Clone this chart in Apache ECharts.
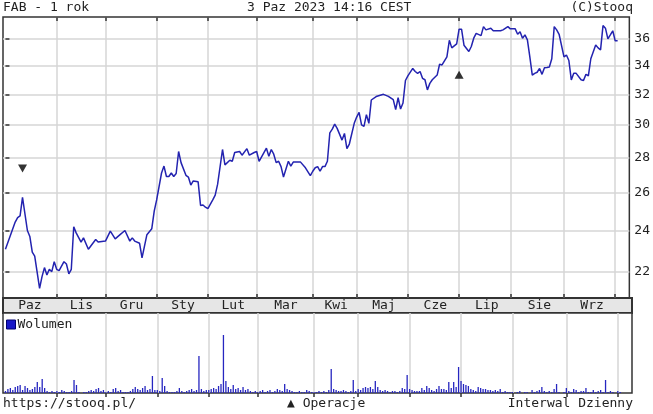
<!DOCTYPE html>
<html>
<head>
<meta charset="utf-8">
<script src="https://cdn.jsdelivr.net/npm/echarts@6/dist/echarts.min.js"></script>
<style>
html,body{margin:0;padding:0;background:#fff;}
#c{width:653px;height:414px;}
</style>
</head>
<body>
<div id="c"></div>
<script>
// ---- data (trading-day index d: 0 = 3 Oct 2022) ----
const monthNames = ['Paz','Lis','Gru','Sty','Lut','Mar','Kwi','Maj','Cze','Lip','Sie','Wrz'];
const monthLabelDays = [10, 31, 51.5, 72.5, 93, 114.5, 135, 154.5, 175.5, 196.5, 218, 239.5];
const monthStartDays = [21, 41, 62, 83, 103, 126, 144, 165, 186, 207, 229, 250];
const priceTicks = [22, 24, 26, 28, 30, 32, 34, 36];

const priceDays = [0,4,5,6,7,9,10,11,12,14,15,16,17,18,19,20,21,22,24,25,26,27,28,29,31,32,34,37,38,41,43,45,47,49,51,52,53,55,56,58,60,61,62,64,65,66,67,68,69,70,71,72,74,75,76,77,79,80,81,82,83,85,86,87,89,90,92,93,94,96,97,99,100,102,103,104,107,108,109,110,111,112,113,114,116,117,118,121,123,125,126,127,128,129,130,131,132,133,134,135,136,138,139,140,141,143,144,145,146,147,148,149,150,152,155,157,159,160,161,162,163,164,165,167,168,169,170,171,172,173,174,175,177,178,179,181,182,183,185,186,187,188,190,191,192,193,195,196,197,199,200,203,204,206,207,209,210,211,212,213,214,215,216,217,218,219,220,221,222,223,224,225,226,227,229,230,231,232,233,234,236,237,238,239,240,242,243,244,245,246,247,248,249,250,251];
const priceValues = [23.07,24.43,24.66,24.75,25.74,24.0,23.7,22.93,22.74,21.24,21.77,22.19,21.85,22.11,22.0,22.47,22.11,22.05,22.47,22.36,21.9,22.11,24.19,23.88,23.42,23.63,23.07,23.55,23.42,23.47,23.97,23.58,23.79,24.0,23.47,23.63,23.47,23.36,22.65,23.79,24.09,25.0,25.6,27.1,27.5,26.9,26.9,27.1,26.9,27.07,28.36,27.7,26.97,26.87,26.42,26.65,26.6,25.3,25.33,25.21,25.13,25.6,25.86,26.47,28.48,27.57,27.84,27.78,28.3,28.36,28.14,28.53,28.14,28.3,28.36,27.78,28.56,28.07,28.48,28.2,27.7,27.78,27.47,26.87,27.78,27.5,27.73,27.73,27.4,26.95,27.2,27.4,27.47,27.2,27.47,27.47,27.78,29.5,29.73,30.05,29.78,29.05,29.46,28.53,28.81,30.1,30.5,30.8,30.0,29.9,30.66,30.1,31.62,31.85,32.0,31.86,31.64,30.98,31.77,31.02,31.42,32.95,33.27,33.8,33.58,33.45,33.58,33.1,33.0,32.3,32.75,33.0,33.33,34.1,34.05,34.64,35.87,35.3,35.6,36.72,36.72,35.5,35.03,35.4,36.03,36.4,36.23,36.92,36.67,36.8,36.6,36.6,36.67,36.92,36.75,36.75,36.33,36.53,36.03,36.28,35.9,34.64,33.33,33.45,33.53,33.8,33.38,33.85,33.87,33.9,34.5,36.92,36.67,36.33,34.64,34.77,34.37,32.99,33.45,33.45,33.0,32.95,33.38,33.28,34.5,35.52,35.3,35.15,37.0,36.8,35.98,36.28,36.6,35.83,35.83];

// volume per trading day (relative units), d = 0..251
const volumeValues = [
 2,4,5,3,6,7,8,3,7,5,3,4,6,11,6,14,5,2,1,2,1,
 2,1,3,2,1,1,2,13,8,1,0,1,1,2,3,2,4,5,2,3,
 1,2,1,4,5,2,3,1,1,1,2,4,6,4,3,5,7,3,4,17,3,
 3,2,15,7,2,1,1,1,2,5,2,1,2,3,4,2,3,37,4,2,3,
 3,4,5,4,7,9,58,12,6,4,8,4,5,3,6,3,4,2,1,2,
 1,2,3,1,2,3,1,2,4,3,2,9,4,3,2,1,1,2,1,1,3,2,1,
 1,1,2,1,2,1,3,24,4,3,2,2,3,2,1,2,13,2,
 4,3,5,6,5,6,4,12,6,3,2,3,2,1,2,2,1,2,5,4,18,
 4,3,2,2,2,5,3,7,5,3,2,4,7,4,4,3,11,5,11,6,26,
 12,9,8,7,4,3,2,6,5,4,4,3,3,2,3,2,4,1,2,1,1,
 1,0,1,2,0,1,1,0,3,1,2,3,6,2,1,2,1,4,9,1,0,1,
 5,2,1,4,3,1,2,2,5,1,1,3,1,2,3,1,13,1,2,1,0,
 2,1
];

const operationsDown = [[7, 27.36]];
const operationsUp = [[186, 33.36]];

// ---- chart ----
const FONT = 'DejaVu Sans Mono';
const TXT = '#222';
const GRIDC = '#d6d6d6';
const FRAME = '#333';
const XMIN = -1, XMAX = 255.8;
const volumeData = volumeValues.map((v, i) => [i, v]);
const priceData = priceDays.map((d, i) => [d, priceValues[i]]);

const chart = echarts.init(document.getElementById('c'), null, {renderer: 'canvas'});
const txt = (extra) => Object.assign({fontFamily: FONT, fontSize: 13, fontWeight: 'normal', color: TXT}, extra || {});

chart.setOption({
  animation: false,
  backgroundColor: '#fff',
  title: [
    {text: 'FAB - 1 rok', left: 3, top: 1, padding: 0, textStyle: txt()},
    {text: '3 Paz 2023 14:16 CEST', left: 247, top: 1, padding: 0, textStyle: txt()},
    {text: '(C)Stooq', right: 20, top: 1, padding: 0, textStyle: txt()},
    {text: 'https://stooq.pl/', left: 3, top: 397, padding: 0, textStyle: txt()},
    {text: '\u25B2 Operacje', left: 287, top: 397, padding: 0, textStyle: txt()},
    {text: 'Interwal Dzienny', right: 20, top: 397, padding: 0, textStyle: txt()}
  ],
  legend: {
    left: 6, top: 318, padding: 0, itemWidth: 9, itemHeight: 9, itemGap: 4,
    icon: 'rect', selectedMode: false,
    textStyle: txt({padding: [0, 0, 0, -3]}),
    data: [{name: 'Wolumen', itemStyle: {color: '#1818c8', borderColor: '#000070', borderWidth: 1}}]
  },
  grid: [
    {left: 3, right: 21, top: 17, height: 281, show: true, borderColor: FRAME, borderWidth: 1.5, backgroundColor: '#fff'},
    {left: 3, right: 21, top: 298, height: 15, show: true, borderColor: FRAME, borderWidth: 2, backgroundColor: '#e6e6e6'},
    {left: 3, right: 21, top: 313, height: 80, show: true, borderColor: FRAME, borderWidth: 1.5, backgroundColor: '#fff'}
  ],
  xAxis: [
    {gridIndex: 0, type: 'value', min: XMIN, max: XMAX, position: 'bottom',
     axisLine: {show: false},
     axisTick: {show: true, inside: true, length: 4, customValues: monthStartDays, lineStyle: {color: FRAME, width: 1.5}},
     axisLabel: {show: false},
     splitLine: {show: true, lineStyle: {color: GRIDC, width: 1.5}}},
    {gridIndex: 0, type: 'value', min: XMIN, max: XMAX, position: 'top',
     axisLine: {show: false},
     axisTick: {show: true, inside: true, length: 4, customValues: monthStartDays, lineStyle: {color: FRAME, width: 1.5}},
     axisLabel: {show: false}, splitLine: {show: false}},
    {gridIndex: 1, type: 'value', min: XMIN, max: XMAX, position: 'bottom',
     axisLine: {show: false}, axisTick: {show: false}, splitLine: {show: false},
     axisLabel: {show: true, inside: true, margin: 7.5, verticalAlign: 'middle',
       customValues: monthLabelDays,
       formatter: (v) => monthNames[monthLabelDays.indexOf(v)] || '',
       fontFamily: FONT, fontSize: 13, color: TXT}},
    {gridIndex: 2, type: 'value', min: XMIN, max: XMAX, position: 'top',
     axisLine: {show: false},
     axisTick: {show: true, inside: true, length: 4, customValues: monthStartDays, lineStyle: {color: FRAME, width: 1.5}},
     axisLabel: {show: false},
     splitLine: {show: true, lineStyle: {color: GRIDC, width: 1.5}}}
  ],
  yAxis: [
    {gridIndex: 0, type: 'log', logBase: 10, min: 20.81, max: 37.68, position: 'right',
     axisLine: {show: false},
     axisTick: {show: true, inside: false, length: 4, customValues: priceTicks, lineStyle: {color: FRAME, width: 1.5}},
     axisLabel: {show: true, customValues: priceTicks, margin: 5, fontFamily: FONT, fontSize: 13, color: TXT},
     splitLine: {show: true, lineStyle: {color: GRIDC, width: 1.5}}},
    {gridIndex: 0, type: 'log', logBase: 10, min: 20.81, max: 37.68, position: 'left',
     axisLine: {show: false},
     axisTick: {show: true, inside: true, length: 4, customValues: priceTicks, lineStyle: {color: FRAME, width: 1.5}},
     axisLabel: {show: false}, splitLine: {show: false}},
    {gridIndex: 1, type: 'value', min: 0, max: 1, show: false},
    {gridIndex: 2, type: 'value', min: 0, max: 80, show: false}
  ],
  series: [
    {name: 'FAB', type: 'line', xAxisIndex: 0, yAxisIndex: 0, data: priceData,
     showSymbol: false, symbol: 'none', lineStyle: {color: '#2323b0', width: 1.5}, z: 5},
    {name: 'opDown', type: 'scatter', xAxisIndex: 0, yAxisIndex: 0, data: operationsDown,
     symbol: 'triangle', symbolRotate: 180, symbolSize: [9, 8], itemStyle: {color: '#000'}, z: 6},
    {name: 'opUp', type: 'scatter', xAxisIndex: 0, yAxisIndex: 0, data: operationsUp,
     symbol: 'triangle', symbolSize: [9, 8], itemStyle: {color: '#000'}, z: 6},
    {name: 'Wolumen', type: 'bar', xAxisIndex: 3, yAxisIndex: 3, data: volumeData,
     barWidth: 1.3, itemStyle: {color: '#2626c0'}, z: 5}
  ]
});
</script>
</body>
</html>
